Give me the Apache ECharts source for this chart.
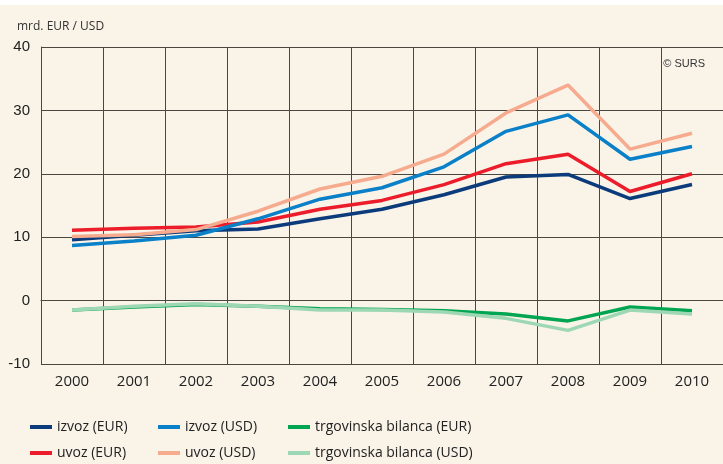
<!DOCTYPE html>
<html>
<head>
<meta charset="utf-8">
<script src="https://cdn.jsdelivr.net/npm/echarts@6/dist/echarts.min.js"></script>
<style>
  html, body { margin: 0; padding: 0; background: #fff; }
  #chart { position: absolute; left: 0; top: 5px; width: 723px; height: 459px; background: #f9f3e8; }
</style>
</head>
<body>
<div id="chart"></div>
<script>
var years = ['2000', '2001', '2002', '2003', '2004', '2005', '2006', '2007', '2008', '2009', '2010'];
var izvozEUR = [9.6, 10.3, 11.0, 11.3, 12.9, 14.4, 16.7, 19.5, 19.9, 16.1, 18.3];
var uvozEUR = [11.1, 11.4, 11.6, 12.4, 14.4, 15.8, 18.3, 21.6, 23.1, 17.2, 20.0];
var izvozUSD = [8.7, 9.4, 10.3, 12.9, 16.0, 17.8, 21.1, 26.7, 29.3, 22.3, 24.3];
var uvozUSD = [10.1, 10.4, 11.2, 14.1, 17.6, 19.6, 23.1, 29.6, 34.0, 23.9, 26.4];
var bilancaEUR = [-1.5, -1.0, -0.6, -0.9, -1.3, -1.4, -1.6, -2.1, -3.2, -1.0, -1.6];
var bilancaUSD = [-1.5, -0.9, -0.5, -0.9, -1.5, -1.5, -1.8, -2.8, -4.7, -1.5, -2.1];

var chart = echarts.init(document.getElementById('chart'));

var gridColor = '#4a4640';
// legenda: tri stolpca, vsak z dvema vrsticama
var legendText = { fontSize: 14, lineHeight: 16, color: '#222', fontFamily: 'Open Sans' };

function line(name, data, color) {
    return {
        name: name,
        type: 'line',
        data: data,
        symbol: 'none',
        lineStyle: { color: color, width: 3.5 },
        itemStyle: { color: color }
    };
}

function legendCol(names, left) {
    return {
        data: names,
        left: left,
        top: 414,
        height: 45,
        orient: 'vertical',
        icon: 'rect',
        itemWidth: 22,
        itemHeight: 4,
        itemGap: 10,
        padding: 0,
        textStyle: legendText
    };
}

var option = {
    backgroundColor: '#f9f3e8',
    animation: false,
    title: {
        text: 'mrd. EUR / USD',
        left: 12,
        top: 11,
        textStyle: { fontSize: 12, fontWeight: 'normal', color: '#333', fontFamily: 'Open Sans' }
    },
    graphic: [{
        type: 'text',
        right: 18,
        top: 53,
        style: { text: '© SURS', fontSize: 11, fill: '#333', fontFamily: 'Liberation Sans' }
    }],
    grid: { left: 41, right: 0, top: 42, bottom: 100 },
    legend: [
        legendCol(['izvoz (EUR)', 'uvoz (EUR)'], 30),
        legendCol(['izvoz (USD)', 'uvoz (USD)'], 158),
        legendCol(['trgovinska bilanca (EUR)', 'trgovinska bilanca (USD)'], 288)
    ],
    xAxis: {
        type: 'category',
        data: years,
        boundaryGap: true,
        axisTick: { show: false },
        axisLine: { lineStyle: { color: gridColor, width: 1 } },
        splitLine: { show: true, interval: 0, lineStyle: { color: gridColor, width: 1 } },
        axisLabel: { fontSize: 15, color: '#222', margin: 10, interval: 0, fontFamily: 'Open Sans' }
    },
    yAxis: {
        type: 'value',
        min: -10,
        max: 40,
        interval: 10,
        axisTick: { show: false },
        axisLine: { show: true, lineStyle: { color: gridColor, width: 1 } },
        splitLine: { lineStyle: { color: gridColor, width: 1 } },
        axisLabel: { fontSize: 15, color: '#222', margin: 11, fontFamily: 'Liberation Sans' }
    },
    series: [
        line('izvoz (EUR)', izvozEUR, '#0b3b7a'),
        line('uvoz (EUR)', uvozEUR, '#ec1c2a'),
        line('izvoz (USD)', izvozUSD, '#0a80c8'),
        line('uvoz (USD)', uvozUSD, '#f7ab8e'),
        line('trgovinska bilanca (EUR)', bilancaEUR, '#00a551'),
        line('trgovinska bilanca (USD)', bilancaUSD, '#9dd7b3')
    ]
};

chart.setOption(option);
</script>
</body>
</html>
